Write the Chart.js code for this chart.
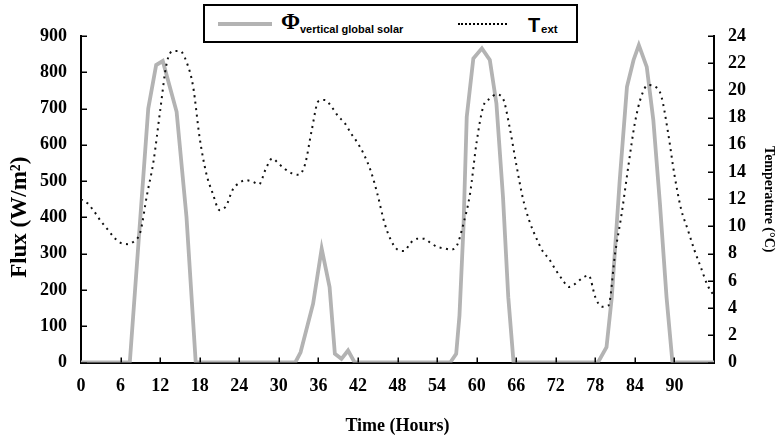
<!DOCTYPE html>
<html>
<head>
<meta charset="utf-8">
<script src="https://cdn.jsdelivr.net/npm/chart.js@4.4.0/dist/chart.umd.min.js"></script>
<style>
  html, body { margin: 0; padding: 0; background: #fff; }
  #wrap { position: relative; width: 779px; height: 441px; }
  #chart { position: absolute; left: 0; top: 0; }
  #legend { position: absolute; left: 203px; top: 4px; width: 371px; height: 35px;
            border: 2px solid #000; background: #fff; }
  #legend .item { position: absolute; white-space: nowrap; color: #000; }
  .serif { font-family: "Liberation Serif", "Times New Roman", serif; font-weight: bold; }
  .sans { font-family: "Liberation Sans", Arial, sans-serif; font-weight: bold; }
</style>
</head>
<body>
<div id="wrap">
  <canvas id="chart" width="779" height="441"></canvas>
  <div id="legend">
    <div class="item" style="left:13px;top:16px;width:54px;height:4px;background:#b3b3b3;"></div>
    <div class="item serif" style="left:76px;top:4px;font-size:23px;line-height:23px;">Φ</div>
    <div class="item sans" style="left:95px;top:18px;font-size:11px;line-height:11px;">vertical global solar</div>
    <div class="item" style="left:253px;top:17px;width:49px;height:0;border-top:2px dotted #000;"></div>
    <div class="item sans" style="left:323px;top:9px;font-size:20px;line-height:20px;">T</div>
    <div class="item sans" style="left:336px;top:18px;font-size:11.5px;line-height:11.5px;">ext</div>
  </div>
</div>
<script>
// ---------------- data ----------------
const hours = [0,1,2,3,4,5,6,7,8,9,10,11,12,13,14,15,16,17,18,19,20,21,22,23,24,
  25,26,27,28,29,30,31,32,33,34,35,36,37,38,39,40,41,42,43,44,45,46,47,48,
  49,50,51,52,53,54,55,56,57,58,59,60,61,62,63,64,65,66,67,68,69,70,71,72,
  73,74,75,76,77,78,79,80,81,82,83,84,85,86,87,88,89,90,91,92,93,94,95,96];

const tempExt = [
  12.0,11.7,11.1,10.4,9.8,9.2,8.8,8.7,8.9,9.6,
  12.3,14.8,18.5,22.0,22.9,22.9,22.1,20.3,16.5,13.9,
  12.4,11.2,11.5,12.7,13.2,13.4,13.3,13.1,14.2,15.0,
  14.6,14.2,13.9,13.8,14.6,17.1,19.2,19.3,18.8,18.1,
  17.6,16.8,16.1,15.2,14.0,12.3,10.3,9.0,8.3,8.2,
  8.8,9.1,9.1,8.8,8.5,8.4,8.3,8.6,10.2,12.4,
  16.2,18.8,19.4,19.7,19.4,17.3,14.6,12.1,10.4,9.2,
  8.2,7.6,6.8,6.1,5.55,5.8,6.2,6.4,4.8,4.1,
  4.2,8.0,10.95,14.4,17.6,19.6,20.4,20.3,19.6,17.0,
  13.8,11.3,9.8,8.3,7.0,5.7,4.9];

const solarHours = [0,7.4,10.2,11.4,12.4,14.5,16.0,17.4,
  32.5,33.3,35.2,36.5,37.7,38.5,39.5,40.5,41.5,
  56.0,56.9,57.4,58.0,58.5,59.5,60.8,62.0,63.0,64.0,64.8,65.6,
  78.4,79.7,80.5,81.7,82.8,83.8,84.6,85.8,86.8,87.8,88.8,89.7,
  96];
const solarFlux = [0,0,700,820,831,691,401,0,
  0,28,162,314,208,24,10,33,0,
  0,24,130,370,677,838,866,834,714,456,180,0,
  0,42,180,502,760,834,875,815,668,438,180,0,
  0];

const xTickStep = 6;
const xTickLast = 90;
const fluxMax = 900, fluxStep = 100;
const tempMax = 24, tempStep = 2;

const labelFlux = 'Flux (W/m²)';
const labelTemp = 'Temperature (°C)';
const labelTime = 'Time (Hours)';

// ---------------- chart ----------------
const SERIF = "'Liberation Serif', 'Times New Roman', serif";
Chart.defaults.font.family = SERIF;
Chart.defaults.font.size = 18;
Chart.defaults.font.weight = 'bold';
Chart.defaults.color = '#000';

const innerTicks = {
  id: 'innerTicks',
  afterDraw(chart) {
    const { ctx, chartArea, scales } = chart;
    ctx.save();
    ctx.strokeStyle = '#000';
    ctx.lineWidth = 1.5;
    const L = 6;
    scales.y.ticks.forEach(t => {
      const y = Math.round(scales.y.getPixelForValue(t.value)) + 0.25;
      ctx.beginPath(); ctx.moveTo(chartArea.left, y); ctx.lineTo(chartArea.left + L, y); ctx.stroke();
    });
    scales.y2.ticks.forEach(t => {
      const y = Math.round(scales.y2.getPixelForValue(t.value)) + 0.25;
      ctx.beginPath(); ctx.moveTo(chartArea.right, y); ctx.lineTo(chartArea.right - L, y); ctx.stroke();
    });
    scales.x.ticks.forEach(t => {
      if (t.value === 0) return;
      const x = Math.round(scales.x.getPixelForValue(t.value)) + 0.25;
      ctx.beginPath(); ctx.moveTo(x, chartArea.bottom); ctx.lineTo(x, chartArea.bottom - 5); ctx.stroke();
    });
    // left axis title (sits a little below the axis centre in the reference)
    ctx.fillStyle = '#000';
    ctx.font = 'bold 23px ' + SERIF;
    ctx.textAlign = 'center';
    ctx.textBaseline = 'middle';
    ctx.translate(chartArea.left - 61, (chartArea.top + chartArea.bottom) / 2 + 18);
    ctx.rotate(-Math.PI / 2);
    ctx.fillText(labelFlux, 0, 0);
    ctx.restore();
  }
};

const tickFont = { family: SERIF, weight: 'bold', size: 18 };

new Chart(document.getElementById('chart'), {
  type: 'line',
  data: {
    datasets: [
      {
        label: 'Text',
        data: hours.map((h, i) => ({ x: h, y: tempExt[i] })),
        yAxisID: 'y2',
        borderColor: '#111',
        borderWidth: 2,
        borderDash: [2, 4.5],
        pointRadius: 0,
        cubicInterpolationMode: 'monotone',
        order: 0
      },
      {
        label: 'Φ vertical global solar',
        data: solarHours.map((h, i) => ({ x: h, y: solarFlux[i] })),
        yAxisID: 'y',
        borderColor: '#b3b3b3',
        borderWidth: 3.8,
        pointRadius: 0,
        tension: 0,
        clip: 0,
        order: 1
      }
    ]
  },
  options: {
    responsive: false,
    animation: false,
    events: [],
    layout: { padding: { top: 36, left: 0, right: 0, bottom: 0 } },
    plugins: { legend: { display: false }, tooltip: { enabled: false } },
    scales: {
      x: {
        type: 'linear',
        min: 0, max: 96,
        afterBuildTicks: s => { s.ticks = s.ticks.filter(t => t.value <= xTickLast); },
        afterFit: s => { s.height = 78.5; },
        ticks: { stepSize: xTickStep, autoSkip: false, maxRotation: 0, color: '#000', font: tickFont, padding: 13 },
        grid: { display: false, drawTicks: false },
        border: { display: true, color: '#000', width: 2 },
        title: { display: true, text: labelTime, color: '#000',
                 font: { family: SERIF, weight: 'bold', size: 18 }, padding: { top: 0, bottom: 4 } }
      },
      y: {
        position: 'left',
        min: 0, max: fluxMax,
        afterFit: s => { s.width = 81; },
        ticks: { stepSize: fluxStep, color: '#000', font: tickFont, padding: 14 },
        grid: { display: false, drawTicks: false },
        border: { display: true, color: '#000', width: 2 },
        title: { display: false }
      },
      y2: {
        position: 'right',
        min: 0, max: tempMax,
        afterFit: s => { s.width = 65; },
        ticks: { stepSize: tempStep, color: '#000', font: tickFont, padding: 14 },
        grid: { display: false, drawTicks: false },
        border: { display: true, color: '#000', width: 2 },
        title: { display: true, text: labelTemp, color: '#000',
                 font: { family: SERIF, weight: 'bold', size: 14 }, padding: { top: 2, bottom: 0 } }
      }
    }
  },
  plugins: [innerTicks]
});
</script>
</body>
</html>
